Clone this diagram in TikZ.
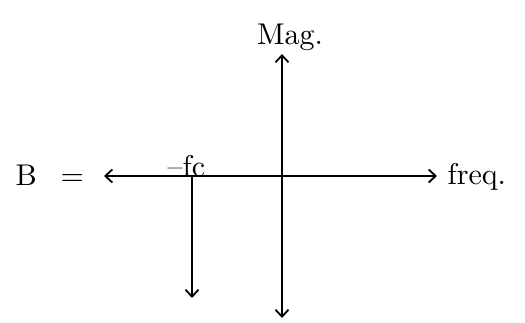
\documentclass[tikz,border=0pt]{standalone}
\usetikzlibrary{arrows.meta}
\begin{document}
\begin{tikzpicture}[x=1pt,y=-1pt,
  tip/.tip={Straight Barb[length=7pt,width=13pt,line width=1.8pt]},
  axis/.style={line width=2pt,tip-tip},
  oneway/.style={line width=2pt,-tip},
  lbl/.style={inner sep=0pt,scale=3.0,font=\normalsize}]
\useasboundingbox (0,0) rectangle (525,322);
\coordinate (L) at (104,176);
\coordinate (R) at (437,176);
\coordinate (T) at (282,54);
\coordinate (Bt) at (282,318);
\coordinate (S0) at (192,176);
\coordinate (S1) at (192,298);
\draw[axis] (L) -- (R);
\draw[axis] (T) -- (Bt);
\draw[oneway] (S0) -- (S1);
\node[lbl,anchor=base] (mag) at (290,44) {Mag.};
\node[lbl,anchor=base west] (freq) at (447,184) {freq.};
\node[lbl,anchor=base west] (fc) at (167,176) {--fc};
\node[lbl,anchor=base west] (b) at (15,185) {B};
\node[lbl,anchor=base west] (eq) at (60,185) {=};
\end{tikzpicture}
\end{document}
